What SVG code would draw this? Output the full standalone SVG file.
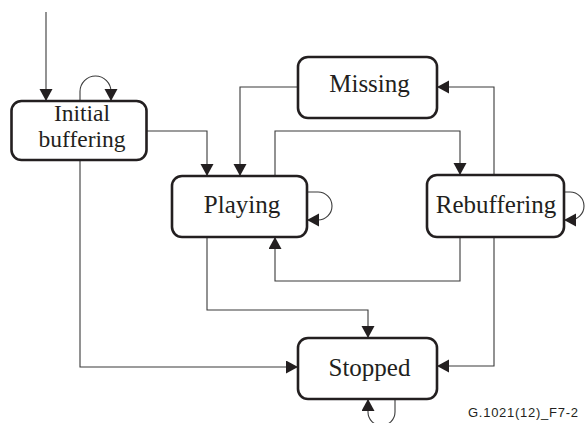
<svg xmlns="http://www.w3.org/2000/svg" width="585" height="423" viewBox="0 0 585 423">
  <defs>
    <marker id="arrow" markerUnits="userSpaceOnUse" markerWidth="13" markerHeight="14" refX="12" refY="6.5" orient="auto">
      <path d="M0,0 L12,6.5 L0,13 z" fill="#231f20"/>
    </marker>
    <style>
      .state rect { fill: #ffffff; stroke: #231f20; stroke-width: 2.6; }
      .state text { font-family: "Liberation Serif", "Times New Roman", serif; font-size: 25px; fill: #231f20; text-anchor: middle; }
      .state text.two-line { font-size: 23.5px; }
      #connectors path { fill: none; stroke: #3a3a3a; stroke-width: 1.1; marker-end: url(#arrow); }
      .caption { font-family: "Liberation Sans", Arial, sans-serif; font-size: 13px; fill: #231f20; }
    </style>
  </defs>

  <rect width="585" height="423" fill="#ffffff"/>

  <!-- transitions -->
  <g id="connectors">
    <path d="M46,12 V101"/>
    <path d="M80,101 V91.5 A15.5,15.5 0 0 1 111,91.5 V101"/>
    <path d="M147,131 H207 V176"/>
    <path d="M80,160 V367 H298"/>
    <path d="M298,87 H240 V176"/>
    <path d="M275,176 V131 H460 V175"/>
    <path d="M307,192 H318 A14,14 0 0 1 318,220 H307"/>
    <path d="M207,237 V310 H368 V338"/>
    <path d="M460,237 V281 H275 V237"/>
    <path d="M494,175 V87 H437"/>
    <path d="M494,237 V366 H437"/>
    <path d="M564,192 H570 A14,14 0 0 1 570,220 H564"/>
    <path d="M395,399 V412 A13.5,13.5 0 0 1 368,412 V399"/>
  </g>

  <!-- states -->
  <g id="initial-buffering" class="state">
    <rect x="11.5" y="101" width="135" height="59" rx="10"/>
    <text class="two-line" x="82" y="121">Initial</text>
    <text class="two-line" x="82" y="147">buffering</text>
  </g>
  <g id="missing" class="state">
    <rect x="298" y="57" width="139" height="61" rx="10"/>
    <text x="369.5" y="92">Missing</text>
  </g>
  <g id="playing" class="state">
    <rect x="172" y="176" width="135" height="61" rx="10"/>
    <text x="242" y="213">Playing</text>
  </g>
  <g id="rebuffering" class="state">
    <rect x="427" y="175" width="137" height="62" rx="10"/>
    <text x="496" y="213">Rebuffering</text>
  </g>
  <g id="stopped" class="state">
    <rect x="298" y="338" width="139" height="61" rx="10"/>
    <text x="369.5" y="376">Stopped</text>
  </g>

  <text class="caption" x="468" y="417" textLength="110" lengthAdjust="spacing">G.1021(12)_F7-2</text>
</svg>
